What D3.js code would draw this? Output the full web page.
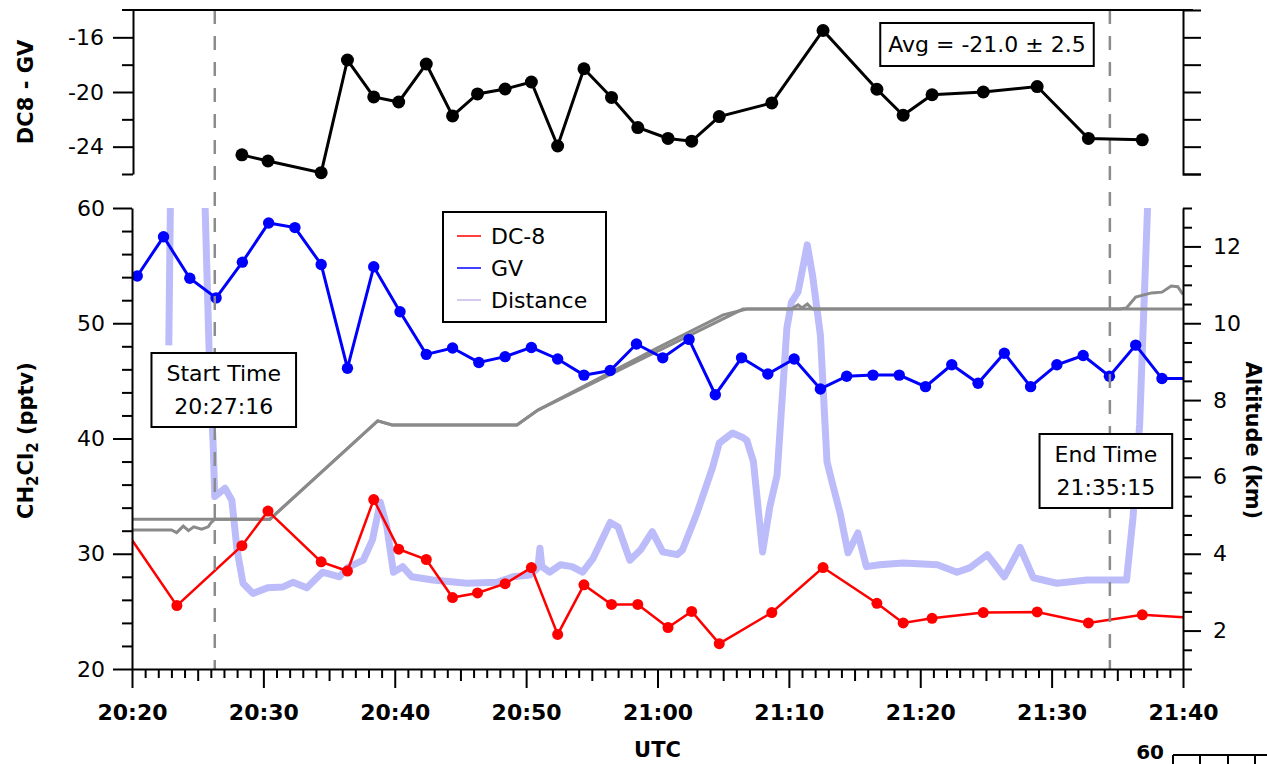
<!DOCTYPE html>
<html>
<meta charset="utf-8">
<script src="https://d3js.org/d3.v7.min.js"></script>
<head>
<style>
body { margin: 0; background: #fff; }
</style>
</head>
<body>
<div id="chart"></div>
<script>

// ---- data ----
// CH2Cl2 (pptv), GV whole-air samples
var gvTimes = ["20:20:24","20:22:24","20:24:24","20:26:24","20:28:24","20:30:24","20:32:24","20:34:24",
  "20:36:24","20:38:24","20:40:24","20:42:24","20:44:24","20:46:24","20:48:24","20:50:24","20:52:24",
  "20:54:24","20:56:24","20:58:24","21:00:24","21:02:24","21:04:24","21:06:24","21:08:24","21:10:24",
  "21:12:24","21:14:24","21:16:24","21:18:24","21:20:24","21:22:24","21:24:24","21:26:24","21:28:24",
  "21:30:24","21:32:24","21:34:24","21:36:24","21:38:24","21:40:24"];
var gvValues = [54.1,57.5,53.9,52.2,55.3,58.7,58.3,55.1,46.1,54.9,51.0,47.3,47.85,46.6,47.1,47.9,46.9,
  45.5,45.9,48.2,47.0,48.6,43.8,47.0,45.6,46.9,44.3,45.4,45.5,45.5,44.5,46.4,44.8,47.4,44.5,46.4,47.2,
  45.4,48.1,45.2,45.2];

// CH2Cl2 (pptv), DC-8 samples
var dc8Times = ["20:19:24","20:23:25","20:28:22","20:30:21","20:34:24","20:36:24","20:38:24","20:40:18",
  "20:42:24","20:44:24","20:46:18","20:48:24","20:50:24","20:52:24","20:54:24","20:56:30","20:58:30",
  "21:00:48","21:02:36","21:04:42","21:08:42","21:12:36","21:16:42","21:18:42","21:20:54","21:24:48",
  "21:28:54","21:32:48","21:36:54","21:41:30"];
var dc8Values = [32.2,25.5,30.7,33.7,29.3,28.5,34.7,30.4,29.5,26.2,26.6,27.4,28.8,23.0,27.3,25.6,25.6,
  23.6,25.0,22.2,24.9,28.8,25.7,24.0,24.4,24.9,24.95,24.0,24.7,24.4];

// DC8 - GV difference
var diffTimes = ["20:28:22","20:30:21","20:34:24","20:36:24","20:38:24","20:40:18","20:42:24","20:44:24",
  "20:46:18","20:48:24","20:50:24","20:52:24","20:54:24","20:56:30","20:58:30","21:00:48","21:02:36",
  "21:04:42","21:08:42","21:12:36","21:16:42","21:18:42","21:20:54","21:24:48","21:28:54","21:32:48",
  "21:36:54"];
var diffValues = [-24.6,-25.05,-25.9,-17.66,-20.36,-20.73,-17.95,-21.75,-20.14,-19.78,-19.27,-23.95,
  -18.3,-20.4,-22.6,-23.4,-23.6,-21.8,-20.8,-15.5,-19.8,-21.7,-20.2,-20.0,-19.6,-23.4,-23.5];

// altitude (km), two aircraft
var altATimes = ["20:19:00","20:30:30","20:38:42","20:39:48","20:49:18","20:50:54","21:06:30","21:10:12",
  "21:10:42","21:11:00","21:11:24","21:11:48","21:41:00"];
var altAValues = [4.9,4.9,7.46,7.35,7.35,7.74,10.37,10.37,10.48,10.40,10.5,10.37,10.37];
var altBTimes = ["20:19:00","20:23:00","20:23:24","20:23:54","20:24:18","20:24:42","20:25:18","20:25:48",
  "20:26:00","20:26:18","20:30:30","20:38:42","20:39:48","20:49:18","20:50:54","21:00:00","21:05:00",
  "21:06:48","21:35:12","21:35:42","21:36:24","21:37:36","21:38:24","21:39:06","21:39:36","21:40:00"];
var altBValues = [4.62,4.62,4.55,4.72,4.6,4.7,4.64,4.7,4.8,4.9,4.9,7.46,7.35,7.35,7.74,9.36,10.22,
  10.37,10.37,10.4,10.68,10.79,10.81,10.97,10.95,10.75];

// distance between aircraft (arbitrary units, off scale above 50)
var distTimes = ["20:22:48","20:23:00","20:25:24","20:25:34","20:25:56","20:26:10","20:26:18","20:27:05",
  "20:27:36","20:28:00","20:28:27","20:29:12","20:30:18","20:31:30","20:32:15","20:33:18","20:34:30",
  "20:35:48","20:36:24","20:37:36","20:38:18","20:38:54","20:39:24","20:39:54","20:40:36","20:41:18",
  "20:42:54","20:45:30","20:47:48","20:49:00","20:50:18","20:50:54","20:51:03","20:51:12","20:51:48",
  "20:52:36","20:53:30","20:54:18","20:55:06","20:56:24","20:57:00","20:57:54","20:58:42","20:59:36",
  "21:00:24","21:01:30","21:01:54","21:03:00","21:04:12","21:04:42","21:05:42","21:06:30","21:06:48",
  "21:07:18","21:08:00","21:08:33","21:09:06","21:09:51","21:10:12","21:10:42","21:11:24","21:11:48",
  "21:12:24","21:12:54","21:13:18","21:13:54","21:14:30","21:15:15","21:15:54","21:16:54","21:18:42",
  "21:21:18","21:22:48","21:23:48","21:25:06","21:26:24","21:27:36","21:28:36","21:30:24","21:32:42",
  "21:35:42","21:36:12","21:36:42","21:37:18","21:37:30"];
var distValues = [35.1,60,60,50,31.3,24.8,18.7,19.6,18.3,12.9,9.3,8.2,8.8,8.9,9.4,8.8,10.5,10.0,11.0,
  11.8,14.0,18.1,15.4,10.5,11.1,10.0,9.65,9.3,9.4,10.0,10.2,11.0,13.1,11.1,10.5,11.3,11.1,10.5,12.0,
  15.9,15.4,11.8,12.9,14.9,12.7,12.4,12.9,16.9,21.9,24.5,25.6,25.1,24.8,22.5,12.7,17.6,21.0,37.0,39.8,
  40.9,46.0,42.7,36.2,22.5,20.2,16.9,12.6,14.75,11.1,11.3,11.5,11.3,10.5,11.0,12.4,10.0,13.2,9.9,9.3,
  9.65,9.65,16.5,26.5,50,56];

// start / end markers
var markerTimes = ["20:26:18","21:34:26"];
var markerLabels = [["Start Time","20:27:16"],["End Time","21:35:15"]];
var avgLabel = "Avg = -21.0 \u00b1 2.5";

var legendNames = ["DC-8","GV","Distance"];

// ---- setup ----
var width = 1267, height = 764;
var dc8Color = "#ff0000", gvColor = "#0000ff", distColor = "#bcbcfa", altColor = "#8a8a8a";

var parseT = d3.utcParse("%H:%M:%S");
var fmtT = d3.utcFormat("%H:%M");
var t0 = parseT("20:20:00"), t1 = parseT("21:40:00");

var x = d3.scaleUtc().domain([t0, t1]).range([132, 1183]);
var y = d3.scaleLinear().domain([20, 60]).range([669, 208]);
var yAlt = d3.scaleLinear().domain([1, 13]).range([669, 208]);
var yDist = d3.scaleLinear().domain([0, 50]).range([669, 208]);
var yDiff = d3.scaleLinear().domain([-26, -14]).range([174, 10]);

function zip(ts, vs) {
  return ts.map(function(t, i) { return {t: parseT(t), v: vs[i]}; });
}

var svg = d3.select("#chart")
  .append("svg")
    .attr("width", width)
    .attr("height", height)
    .style("font-family", "'DejaVu Sans', sans-serif");

svg.append("clipPath").attr("id", "plotclip")
  .append("rect")
    .attr("x", x.range()[0]).attr("y", y.range()[1])
    .attr("width", x.range()[1] - x.range()[0])
    .attr("height", y.range()[0] - y.range()[1]);

var plot = svg.append("g").attr("clip-path", "url(#plotclip)");

// distance (drawn first, behind everything)
plot.append("path")
  .datum(zip(distTimes, distValues))
  .attr("fill", "none")
  .attr("stroke", distColor)
  .attr("stroke-width", 7)
  .attr("stroke-linejoin", "round")
  .attr("d", d3.line().x(function(d){ return x(d.t); }).y(function(d){ return yDist(d.v); }));

// altitudes
[[altATimes, altAValues], [altBTimes, altBValues]].forEach(function(s) {
  plot.append("path")
    .datum(zip(s[0], s[1]))
    .attr("fill", "none")
    .attr("stroke", altColor)
    .attr("stroke-width", 3)
    .attr("d", d3.line().x(function(d){ return x(d.t); }).y(function(d){ return yAlt(d.v); }));
});

// dashed start / end lines
svg.selectAll("line.marker")
  .data(markerTimes)
  .enter()
  .append("line")
    .attr("x1", function(d){ return x(parseT(d)); })
    .attr("x2", function(d){ return x(parseT(d)); })
    .attr("y1", yDiff.range()[1])
    .attr("y2", y.range()[0])
    .attr("stroke", "#8c8c8c")
    .attr("stroke-width", 2.5)
    .attr("stroke-dasharray", "14,12");

// DC-8 and GV series
function series(g, data, color, lw, r) {
  g.append("path")
    .datum(data)
    .attr("fill", "none")
    .attr("stroke", color)
    .attr("stroke-width", lw)
    .attr("d", d3.line().x(function(d){ return x(d.t); }).y(function(d){ return d.yv; }));
  g.selectAll(null)
    .data(data)
    .enter()
    .append("circle")
      .attr("cx", function(d){ return x(d.t); })
      .attr("cy", function(d){ return d.yv; })
      .attr("r", r)
      .attr("fill", color);
}
var dc8Data = zip(dc8Times, dc8Values).map(function(d){ d.yv = y(d.v); return d; });
var gvData = zip(gvTimes, gvValues).map(function(d){ d.yv = y(d.v); return d; });
series(plot, dc8Data, dc8Color, 2.5, 5.5);
series(plot, gvData, gvColor, 3, 5.7);

var diffData = zip(diffTimes, diffValues).map(function(d){ d.yv = yDiff(d.v); return d; });
series(svg, diffData, "#000", 3, 6.5);

// ---- axes ----
function styleAxis(g, size, weight) {
  g.select(".domain").attr("stroke", "#000").attr("stroke-width", 2);
  g.selectAll(".tick line").attr("stroke", "#000").attr("stroke-width", 2);
  g.selectAll(".tick text")
    .attr("fill", "#000")
    .attr("font-family", "'DejaVu Sans', sans-serif")
    .attr("font-size", size)
    .attr("font-weight", weight);
}

// bottom time axis
var minutes = d3.utcMinute.range(t0, d3.utcMinute.offset(t1, 1));
var xg = svg.append("g")
  .attr("transform", "translate(0," + y.range()[0] + ")")
  .call(d3.axisBottom(x).tickValues(minutes).tickSizeOuter(0)
    .tickFormat(function(d){ return d.getUTCMinutes() % 10 === 0 ? fmtT(d) : ""; }));
styleAxis(xg, 22, "bold");
xg.selectAll(".tick line").attr("y2", function(d) {
  var m = d.getUTCMinutes();
  return m % 10 === 0 ? 19 : (m % 5 === 0 ? 12 : 9);
});
xg.selectAll(".tick text").attr("y", 51).attr("dy", null);

// left concentration axis
var yg = svg.append("g")
  .attr("transform", "translate(" + x.range()[0] + ",0)")
  .call(d3.axisLeft(y).tickValues(d3.range(20, 61, 2)).tickSizeOuter(0)
    .tickFormat(function(d){ return d % 10 === 0 ? String(d) : ""; }));
styleAxis(yg, 22, "normal");
yg.selectAll(".tick line").attr("x2", function(d){ return d % 10 === 0 ? -19 : -10; });
yg.selectAll(".tick text").attr("x", -27);

// right altitude axis
var ag = svg.append("g")
  .attr("transform", "translate(" + x.range()[1] + ",0)")
  .call(d3.axisRight(yAlt).tickValues(d3.range(1, 13.01, 0.5)).tickSizeOuter(0)
    .tickFormat(function(d){ return d % 2 === 0 ? String(d) : ""; }));
styleAxis(ag, 22, "normal");
ag.selectAll(".tick line").attr("x2", function(d){ return d % 2 === 0 ? 18 : 9; });
ag.selectAll(".tick text").attr("x", 30);

// top panel axes
var dg = svg.append("g")
  .attr("transform", "translate(" + (x.range()[0] + 1) + ",0)")
  .call(d3.axisLeft(yDiff).tickValues(d3.range(-26, -15, 2)).tickSizeOuter(0)
    .tickFormat(function(d){ return d % 4 === 0 ? String(d) : ""; }));
styleAxis(dg, 22, "normal");
dg.selectAll(".tick line").attr("x2", function(d){ return d % 4 === 0 ? -20 : -11; });
dg.selectAll(".tick text").attr("x", -29);

var dg2 = svg.append("g")
  .attr("transform", "translate(" + x.range()[1] + ",0)")
  .call(d3.axisRight(yDiff).tickValues(d3.range(-26, -15, 2)).tickSizeOuter(0).tickSize(18).tickFormat(""));
styleAxis(dg2, 22, "normal");

svg.append("line")
  .attr("x1", x.range()[0] - 10).attr("x2", x.range()[1] + 10)
  .attr("y1", yDiff.range()[1]).attr("y2", yDiff.range()[1])
  .attr("stroke", "#000").attr("stroke-width", 2);

// axis titles
svg.append("text")
  .attr("transform", "translate(33," + yDiff(-20) + ") rotate(-90)")
  .attr("text-anchor", "middle")
  .attr("font-size", 21).attr("font-weight", "bold")
  .text("DC8 - GV");

var yl = svg.append("text")
  .attr("transform", "translate(33," + (y(40) + 2) + ") rotate(-90)")
  .attr("text-anchor", "middle")
  .attr("font-size", 21).attr("font-weight", "bold");
yl.append("tspan").text("CH");
yl.append("tspan").attr("dy", 5).attr("font-size", 15).text("2");
yl.append("tspan").attr("dy", -5).text("Cl");
yl.append("tspan").attr("dy", 5).attr("font-size", 15).text("2");
yl.append("tspan").attr("dy", -5).text(" (pptv)");

svg.append("text")
  .attr("transform", "translate(1246," + (y(40) + 2) + ") rotate(90)")
  .attr("text-anchor", "middle")
  .attr("font-size", 21).attr("font-weight", "bold")
  .text("Altitude (km)");

svg.append("text")
  .attr("x", (x.range()[0] + x.range()[1]) / 2)
  .attr("y", 757)
  .attr("text-anchor", "middle")
  .attr("font-size", 21).attr("font-weight", "bold")
  .text("UTC");

// cut-off axis of the panel below
svg.append("text")
  .attr("x", 1164).attr("y", 759)
  .attr("text-anchor", "end")
  .attr("font-size", 20).attr("font-weight", "bold")
  .text("60");
svg.append("line")
  .attr("x1", 1173).attr("x2", width).attr("y1", 755).attr("y2", 755)
  .attr("stroke", "#000").attr("stroke-width", 2);
svg.selectAll(null)
  .data([1173, 1200, 1228, 1255])
  .enter()
  .append("line")
    .attr("x1", function(d){ return d; }).attr("x2", function(d){ return d; })
    .attr("y1", 755).attr("y2", height)
    .attr("stroke", "#000").attr("stroke-width", 2);

// ---- annotation boxes ----
function textBox(lines, cx, baseline, lineH, padX, padY) {
  var g = svg.append("g");
  var rect = g.append("rect");
  var t = g.append("text")
    .attr("text-anchor", "middle")
    .attr("font-size", 22);
  lines.forEach(function(s, i) {
    t.append("tspan").attr("x", cx).attr("y", baseline + i * lineH).text(s);
  });
  var bb = t.node().getBBox();
  rect.attr("x", bb.x - padX).attr("y", bb.y - padY)
    .attr("width", bb.width + 2 * padX).attr("height", bb.height + 2 * padY)
    .attr("fill", "#fff").attr("stroke", "#000").attr("stroke-width", 2);
}

textBox([avgLabel], 987, 52, 0, 8, 9);
textBox(markerLabels[0], x(parseT(markerTimes[0])) + 9, 381, 33, 15, 8);
textBox(markerLabels[1], x(parseT(markerTimes[1])) - 4, 462, 33, 15, 8);

// legend
var legend = svg.append("g").attr("transform", "translate(443,212)");
legend.append("rect")
  .attr("width", 163).attr("height", 110)
  .attr("fill", "#fff").attr("stroke", "#000").attr("stroke-width", 2);
var legendColors = [dc8Color, gvColor, "#c9b9ec"];
legendNames.forEach(function(name, i) {
  legend.append("line")
    .attr("x1", 14).attr("x2", 38)
    .attr("y1", 24 + i * 32).attr("y2", 24 + i * 32)
    .attr("stroke", legendColors[i]).attr("stroke-width", 1.5);
  legend.append("text")
    .attr("x", 48).attr("y", 32 + i * 32)
    .attr("font-size", 22)
    .text(name);
});

</script>
</body>
</html>
